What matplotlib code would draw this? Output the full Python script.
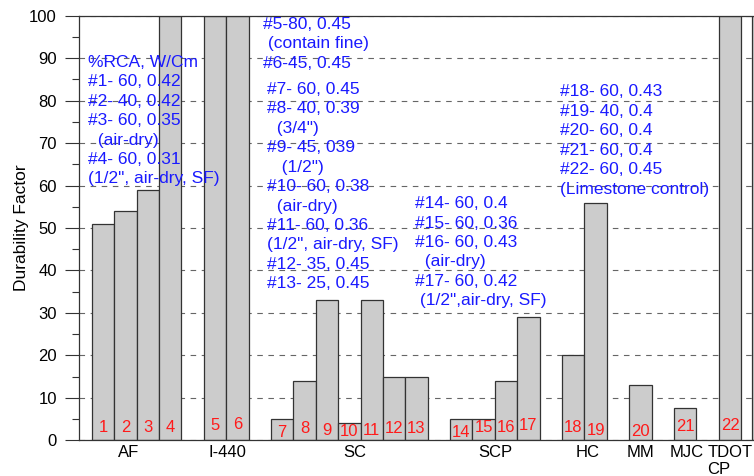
import matplotlib
matplotlib.use("Agg")
import matplotlib.pyplot as plt
from matplotlib.ticker import MultipleLocator

plt.rcParams['font.family'] = ['Liberation Sans', 'DejaVu Sans']

# groups of mixes and how many bars each one has
groups = ['AF', 'I-440', 'SC', 'SCP', 'HC', 'MM', 'MJC', 'TDOT\nCP']
group_sizes = [4, 2, 7, 4, 2, 1, 1, 1]

# durability factor of mixes #1 .. #22
mix_ids = [str(i) for i in range(1, 23)]
durability = [51, 54, 59, 100, 100, 100, 5, 14, 33, 4, 33, 15, 15,
              5, 5, 14, 29, 20, 56, 13, 7.6, 100]

# next mix, only its edge shows at the right border
extra_durability = 100

# mix descriptions (%RCA, W/Cm)
notes_af = ['%RCA, W/Cm', '#1- 60, 0.42', '#2- 40, 0.42', '#3- 60, 0.35',
            '  (air-dry)', '#4- 60, 0.31', '(1/2", air-dry, SF)']
notes_i440 = ['#5-80, 0.45', ' (contain fine)', '#6-45, 0.45']
notes_sc = ['#7- 60, 0.45', '#8- 40, 0.39', '  (3/4")', '#9- 45, 039',
            '   (1/2")', '#10- 60, 0.38', '  (air-dry)', '#11- 60, 0.36',
            '(1/2", air-dry, SF)', '#12- 35, 0.45', '#13- 25, 0.45']
notes_scp = ['#14- 60, 0.4', '#15- 60, 0.36', '#16- 60, 0.43', '  (air-dry)',
             '#17- 60, 0.42', ' (1/2",air-dry, SF)']
notes_hc = ['#18- 60, 0.43', '#19- 40, 0.4', '#20- 60, 0.4', '#21- 60, 0.4',
            '#22- 60, 0.45', '(Limestone control)']

# bar slots: one empty slot between groups
slots = []
group_start = []
pos = 0
for n in group_sizes:
    group_start.append(pos)
    slots += list(range(pos, pos + n))
    pos += n + 1

# layout of the texts (data coordinates)
id_y = [2.9, 2.9, 2.9, 3.1, 3.6, 3.8, 1.9, 2.7, 2.4, 2.1, 2.2, 2.7, 2.7,
        1.9, 2.9, 3.1, 3.4, 3.1, 2.4, 2.1, 3.2, 3.6]
group_dx = [-0.36, 0.06, 0.25, 0.03, 0.16, 0.02, 0.08, -0.76]

fig = plt.figure(figsize=(7.54, 4.76), dpi=100)
ax = fig.add_axes([79 / 754, 35.7 / 476, (754 - 79) / 754, 424.6 / 476])

ax.bar(slots, durability, width=1.0, color='#cccccc', edgecolor='#333333',
       linewidth=0.9, zorder=2)
ax.bar([pos - 1 + 0.5], [extra_durability], width=1.0, color='#cccccc',
       edgecolor='#333333', linewidth=0.9, zorder=2)

for s, lab, y in zip(slots, mix_ids, id_y):
    ax.text(s, y, lab, color='#ff1a1a', fontsize=12, ha='center',
            va='center', zorder=4)

for g, start, n, dx in zip(groups, group_start, group_sizes, group_dx):
    x = start + (n - 1) / 2 + dx
    if '\n' in g:
        ax.text(x - 0.26, -1.0, g, fontsize=12, ha='left', va='top',
                multialignment='left', linespacing=1.22, clip_on=False)
    else:
        ax.text(x, -1.1, g, fontsize=12, ha='center', va='top',
                clip_on=False)

blue = '#1a1aff'
for lines, x, y in [(notes_af, -0.68, 90.8), (notes_i440, 7.13, 99.7),
                    (notes_sc, 7.31, 84.4), (notes_scp, 13.93, 57.5),
                    (notes_hc, 20.4, 83.8)]:
    ax.text(x, y, '\n'.join(lines), color=blue, fontsize=12.5, ha='left',
            va='top', linespacing=1.37, zorder=5)

ax.set_xlim(-1.07, 29.07)
ax.set_ylim(0, 100)
ax.set_xticks([])
ax.yaxis.set_major_locator(MultipleLocator(10))
ax.yaxis.set_minor_locator(MultipleLocator(5))
ax.tick_params(axis='y', which='major', direction='out', length=10,
               width=0.8, pad=6, labelsize=12, color='#333333')
ax.tick_params(axis='y', which='minor', direction='out', length=5,
               width=0.8, color='#333333')
ax.set_ylabel('Durability Factor', fontsize=12.5, labelpad=0)

ax.grid(axis='y', which='major', linestyle=(0, (5, 5)), color='#666666',
        linewidth=0.8, zorder=1)
ax.set_axisbelow(True)
for side in ['left', 'bottom', 'top']:
    ax.spines[side].set_color('#333333')
    ax.spines[side].set_linewidth(0.9)
ax.spines['right'].set_visible(False)

fig.savefig('out.png', dpi=100)
